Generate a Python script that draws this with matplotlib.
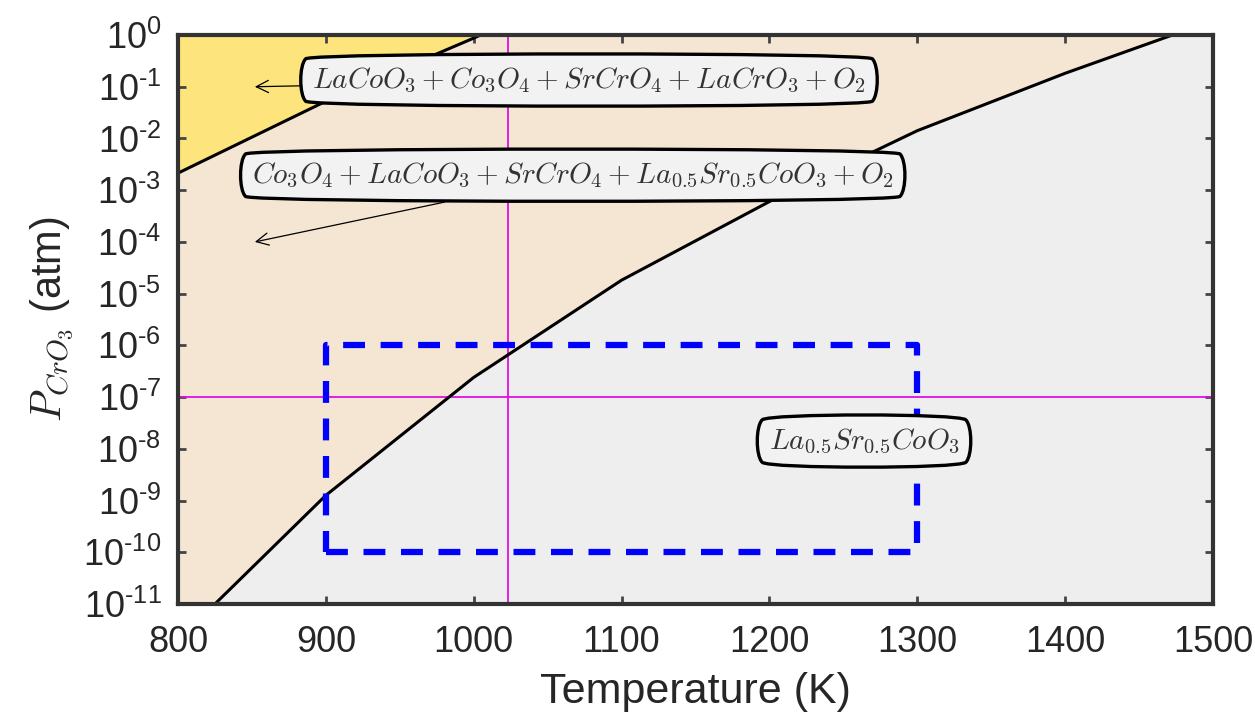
import numpy as np
import matplotlib
matplotlib.use("Agg")
import matplotlib.pyplot as plt

plt.rcParams['font.family'] = ['Liberation Sans', 'DejaVu Sans']
plt.rcParams['mathtext.fontset'] = 'custom'
plt.rcParams['mathtext.rm'] = 'Liberation Sans'
plt.rcParams['mathtext.it'] = 'Liberation Sans:italic'

# ---- data ----
upper_T = [800, 900, 1000, 1010]                    # yellow / beige boundary
upper_logP = [-2.67, -1.28, -0.06, 0.07]
lower_T = [800, 900, 1000, 1100, 1200, 1300, 1400, 1500]   # beige / grey boundary
lower_logP = [-11.7, -8.9, -6.62, -4.74, -3.22, -1.85, -0.74, 0.28]
window_T = [900, 1300]          # operating window (dashed box)
window_P = [1e-10, 1e-6]
ref_T = 1023                    # vertical marker line
ref_P = 1e-7                    # horizontal marker line
x_ticks = [800, 900, 1000, 1100, 1200, 1300, 1400, 1500]
y_exps = list(range(-11, 1))

labels = [
    r'$LaCoO_3+Co_3O_4+SrCrO_4+LaCrO_3+O_2$',
    r'$Co_3O_4+LaCoO_3+SrCrO_4+La_{0.5}Sr_{0.5}CoO_3+O_2$',
    r'$La_{0.5}Sr_{0.5}CoO_3$',
]
label_xy = [(1078, 10**-0.87), (1067, 10**-2.71), (1264, 10**-7.85)]
arrow_xy = [(852, 1e-1), (852, 1e-4), None]

fig = plt.figure(figsize=(12.55, 7.12), dpi=100)
ax = fig.add_axes([0.1418, 0.1517, 0.8247, 0.7991])

ax.set_yscale('log')
ax.set_xlim(800, 1500)
ax.set_ylim(1e-11, 1e0)

ax.set_facecolor('#eeeeee')
Tfine = np.linspace(800, 1500, 701)
low = 10 ** np.interp(Tfine, lower_T, lower_logP)
ax.fill_between(Tfine, low, 1e3, color='#f5e6d4', lw=0, zorder=1)
Tu = np.linspace(800, 1010, 211)
up = 10 ** np.interp(Tu, upper_T, upper_logP)
ax.fill_between(Tu, up, 1e3, color='#fee47c', lw=0, zorder=1.5)

ax.plot(lower_T, 10 ** np.array(lower_logP), color='black', lw=2.2, zorder=3)
ax.plot(upper_T, 10 ** np.array(upper_logP), color='black', lw=2.2, zorder=3)

ax.axvline(ref_T, color='#e010e0', lw=1.3, zorder=2.5)
ax.axhline(ref_P, color='#e010e0', lw=1.3, zorder=2.5)

rx = [window_T[0], window_T[1], window_T[1], window_T[0], window_T[0]]
ry = [window_P[0], window_P[0], window_P[1], window_P[1], window_P[0]]
ax.plot(rx, ry, color='blue', lw=4.5, ls=(0, (3.5, 2.5)), zorder=4)

bbox = dict(boxstyle='round4,pad=0.45', fc='#f2f2f2', ec='black', lw=2.4)
for lab, xy, axy in zip(labels, label_xy, arrow_xy):
    if axy is not None:
        ax.annotate(lab, xy=axy, xytext=xy, ha='center', va='center',
                    fontsize=21, color='#333333', math_fontfamily='cm',
                    bbox=bbox, zorder=6,
                    arrowprops=dict(arrowstyle='->', color='black', lw=0.9,
                                    mutation_scale=22, shrinkA=0, shrinkB=0))
    else:
        ax.text(xy[0], xy[1], lab, ha='center', va='center', fontsize=21,
                color='#333333', math_fontfamily='cm', bbox=bbox, zorder=6)

ax.set_xticks(x_ticks)
ax.set_xticklabels([str(t) for t in x_ticks])
ax.set_yticks([10.0 ** e for e in y_exps])
ax.set_yticklabels([r'$10^{\text{%d}}$' % e for e in y_exps])
ax.minorticks_off()
ax.tick_params(direction='in', length=6, width=2, color='#444444',
               labelsize=26, labelcolor='#262626', top=True, right=True, pad=12)
ax.tick_params(axis='x', pad=15)

for s in ax.spines.values():
    s.set_linewidth(3)
    s.set_color('#333333')
    s.set_zorder(10)

ax.set_xlabel('Temperature (K)', fontsize=31, color='#262626', labelpad=9)
ax.set_ylabel(r'$P_{CrO_3}$ (atm)', fontsize=30, color='#262626',
              math_fontfamily='cm', labelpad=5)

fig.savefig('out.png', dpi=100)
